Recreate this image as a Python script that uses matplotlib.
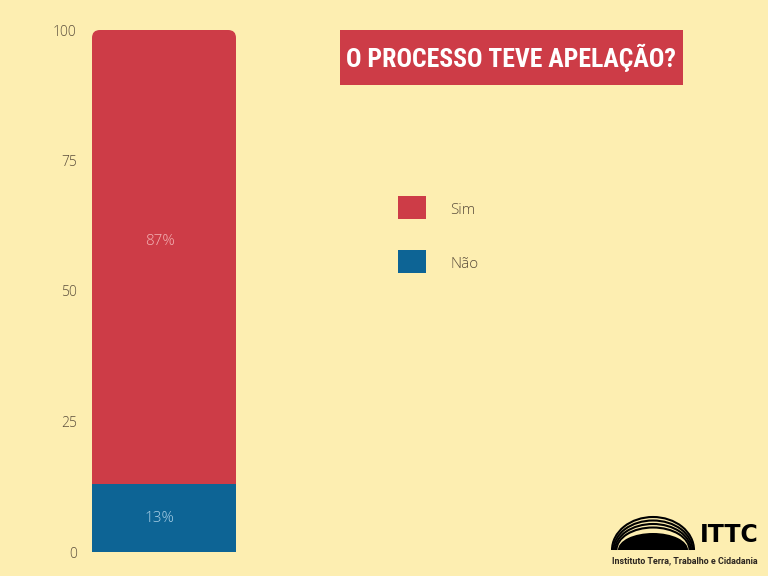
import matplotlib
matplotlib.use("Agg")
import matplotlib.pyplot as plt
from matplotlib.patches import FancyBboxPatch, Rectangle, Arc, Wedge
import numpy as np

categories = ["Não", "Sim"]
values = [13, 87]
colors = ["#0d6495", "#cd3c47"]
label_colors = ["#a9cfe6", "#f3b3b5"]
yticks = [0, 25, 50, 75, 100]
title = "O PROCESSO TEVE APELAÇÃO?"

bg = "#fdeeb1"
txt = "#5b4e3c"
cond = ["Liberation Sans Narrow", "DejaVu Sans Condensed", "Roboto Condensed",
        "Open Sans Condensed", "Roboto", "DejaVu Sans"]

fig = plt.figure(figsize=(7.68, 5.76), dpi=100)
fig.patch.set_facecolor(bg)

# main bar axes
ax = fig.add_axes([92 / 768, 24 / 576, 144 / 768, 522 / 576])
ax.set_facecolor("none")
ax.set_xlim(-0.5, 0.5)
ax.set_ylim(0, 100)

clip = FancyBboxPatch((-0.5, -20), 1, 120,
                      boxstyle="round,pad=0,rounding_size=0.055",
                      mutation_aspect=27.5, transform=ax.transData,
                      facecolor="none", edgecolor="none")
ax.add_patch(clip)

bottom = 0
for v, c, lc in zip(values, colors, label_colors):
    b = ax.bar(0, v, width=1, bottom=bottom, color=c, linewidth=0)
    for p in b:
        p.set_clip_path(clip)
    ymid = bottom + v / 2 + (3.0 if v > 50 else 0)
    ax.text(-0.03, ymid, f"{v}%", ha="center", va="center",
            color=lc, fontsize=11, family="Open Sans", fontweight="light")
    bottom += v

ax.set_yticks(yticks)
ax.set_yticklabels([str(t) for t in yticks], color=txt, fontsize=10,
                   family="Open Sans", fontweight="light")
ax.tick_params(axis="y", length=0, pad=11)
ax.set_xticks([])
for s in ax.spines.values():
    s.set_visible(False)

# overlay in pixel coordinates
ov = fig.add_axes([0, 0, 1, 1])
ov.set_xlim(0, 768)
ov.set_ylim(576, 0)
ov.axis("off")
ov.set_facecolor("none")

renderer = fig.canvas.get_renderer()


def fit_width(t, width_px, max_size):
    t.set_fontsize(max_size)
    w = t.get_window_extent(renderer).width
    if w > width_px:
        t.set_fontsize(max_size * width_px / w)


# title box
ov.add_patch(Rectangle((340, 30), 343, 55, facecolor="#cd3c47", edgecolor="none"))
tt = ov.text(511.5, 58, title, ha="center", va="center", color="white",
             fontweight="bold", family=cond)
fit_width(tt, 329, 30)

# legend
for i, (cat, c) in enumerate(zip(categories[::-1], colors[::-1])):
    y = 196 + i * 54
    ov.add_patch(Rectangle((398, y), 28, 23, facecolor=c, edgecolor="none"))
    ov.text(450, y + 14, cat, ha="left", va="center", color=txt,
            fontsize=11, family="Open Sans", fontweight="light")

# logo
cx, cy = 653, 550
ov.add_patch(Wedge((0, 0), 1, 180, 360, facecolor="black", edgecolor="none",
                   transform=matplotlib.transforms.Affine2D().scale(35, 17)
                   .translate(cx, cy) + ov.transData))
for k in range(4):
    ov.add_patch(Arc((cx, cy), 2 * (41 - 1.5 * k), 2 * (33 - 3.5 * k),
                     theta1=180, theta2=360, color="black", lw=1.5))
ov.text(700, 535, "ITTC", ha="left", va="center", color="black",
        fontsize=17, fontweight="bold", family="DejaVu Sans")
st = ov.text(612, 561, "Instituto Terra, Trabalho e Cidadania", ha="left", va="center",
             color="#2b2520", fontweight="bold", family=["Roboto", "DejaVu Sans"])
fit_width(st, 145, 7.5)

fig.savefig("out.png", dpi=100, facecolor=bg)
